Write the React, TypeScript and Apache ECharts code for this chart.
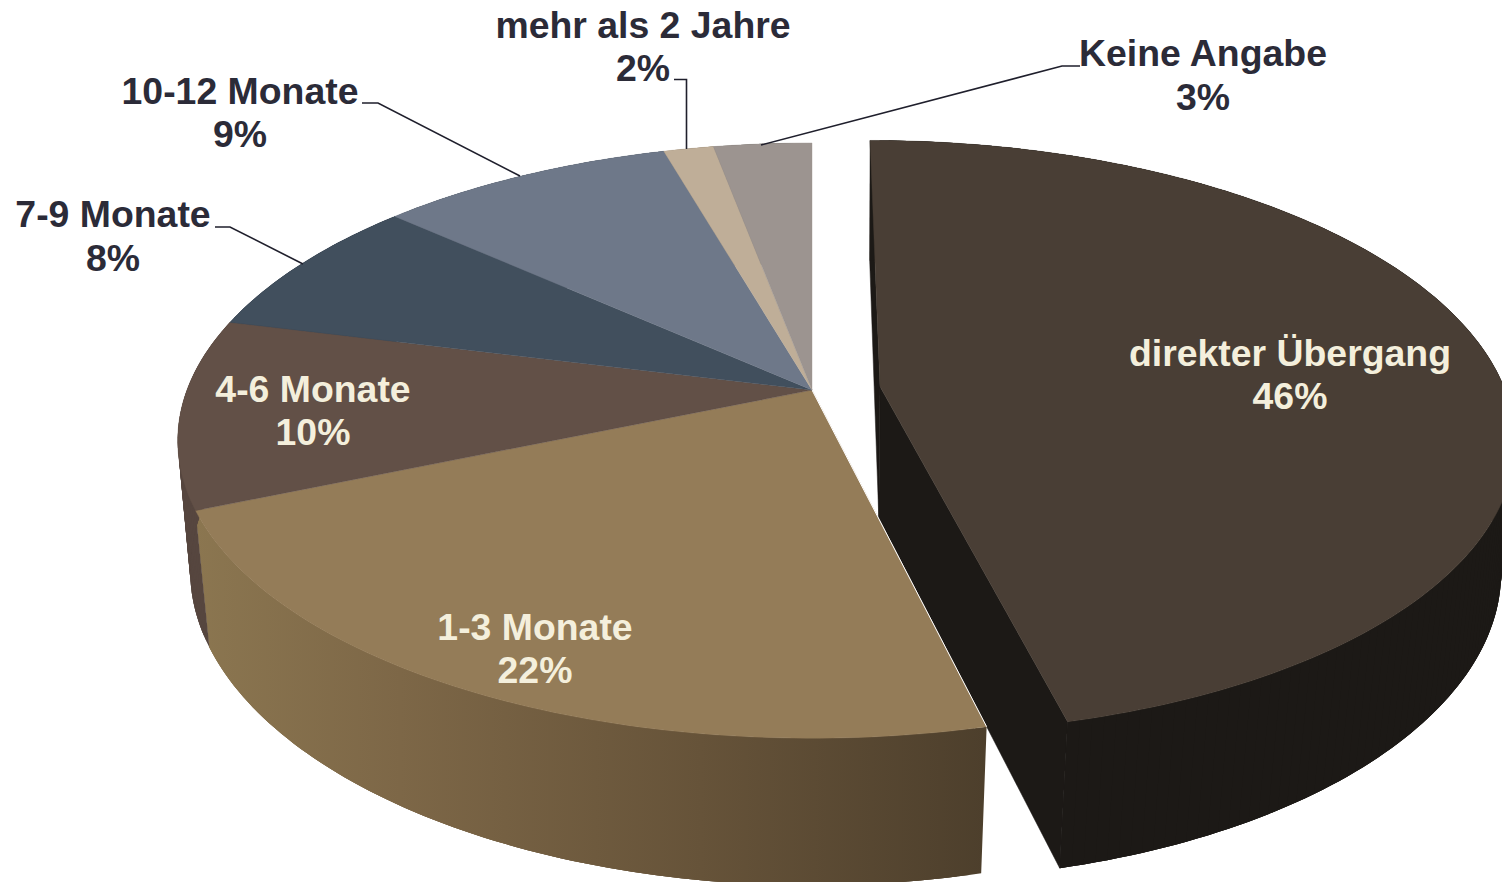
import React, { useEffect, useRef } from "react";
import * as echarts from "echarts";

// Data
const categories = ["direkter Übergang", "1-3 Monate", "4-6 Monate", "7-9 Monate", "10-12 Monate", "mehr als 2 Jahre", "Keine Angabe"];
const values = [46.3, 22.4, 10.3, 7.75, 8.9, 1.5, 2.95];
const faceColors = ["#493e35", "#947c58", "#625047", "#414f5d", "#6e7889", "#bfae98", "#9c9490"];
const wallColors = ["#1c1916", "#7a6445", "#56463f", "#2f3a45", "#525a67", "#8f826f", "#75706c"];
const exploded = [1, 0, 0, 0, 0, 0, 0];

// Layout of labels (centre x, name y, percentage y, colour) and their leader lines
const labelLayout = [
  { x: 1290, y1: 353, y2: 396, fill: "#f4efdc", leader: null },
  { x: 535, y1: 627, y2: 670, fill: "#f4efdc", leader: null },
  { x: 313, y1: 389, y2: 432, fill: "#f4efdc", leader: null },
  { x: 113, y1: 214, y2: 258, fill: "#2b2b38", leader: [[215, 227], [230, 227], [303, 264]] },
  { x: 240, y1: 91, y2: 134, fill: "#2b2b38", leader: [[362, 103], [378, 103], [520, 176]] },
  { x: 643, y1: 25, y2: 68, fill: "#2b2b38", leader: [[674, 79.5], [686.5, 79.5], [686.5, 149]] },
  { x: 1203, y1: 53, y2: 97, fill: "#2b2b38", leader: [[1080, 66], [1062, 66], [761, 145]] },
];

// Perspective of the tilted disc
const CX = 812, TOP_Y = 390, BOT_Y = 521.5, A = 625, B = 289, P = 0.17, BOT_A = 614, BOT_P = 0.158, BOT_SY = 1.045;
const EXPLODE_U = 0.109, EXPLODE_V = -0.012;

function project(u: number, v: number, bottom: boolean): number[] {
  const d = 1 - P * v;
  return bottom
    ? [CX + (BOT_A * u) / (1 - BOT_P * v), BOT_Y + (BOT_SY * B * v) / d]
    : [CX + (A * u) / d, TOP_Y + (B * v) / d];
}

const total = values.reduce((a, b) => a + b, 0);
const sliceAngles = values.map((_, i) => {
  const before = values.slice(0, i).reduce((a, b) => a + b, 0);
  return [(before / total) * 2 * Math.PI, ((before + values[i]) / total) * 2 * Math.PI];
});

function arc(i: number, bottom: boolean): number[][] {
  const [a0, a1] = sliceAngles[i];
  const n = Math.max(2, Math.ceil(((a1 - a0) * 180) / Math.PI));
  const du = exploded[i] ? EXPLODE_U : 0;
  const dv = exploded[i] ? EXPLODE_V : 0;
  const pts: number[][] = [];
  for (let k = 0; k <= n; k++) {
    const t = a0 + ((a1 - a0) * k) / n;
    pts.push(project(Math.sin(t) + du, -Math.cos(t) + dv, bottom));
  }
  return pts;
}

function apex(i: number, bottom: boolean): number[] {
  return exploded[i] ? project(EXPLODE_U, EXPLODE_V, bottom) : project(0, 0, bottom);
}

const tanWall = () =>
  new echarts.graphic.LinearGradient(
    195, 0, 985, 0,
    [
      { offset: 0, color: "#8b7650" },
      { offset: 0.26, color: "#7d6747" },
      { offset: 0.64, color: "#665339" },
      { offset: 1, color: "#4d3f2c" },
    ],
    true
  );

function renderWalls(params: any) {
  const i = params.dataIndex;
  const fill: any = i === 1 ? tanWall() : wallColors[i];
  const children: any[] = [];
  const top = arc(i, false);
  const bot = arc(i, true);
  if (exploded[i]) {
    const ta = apex(i, false);
    const ba = apex(i, true);
    children.push({
      type: "polygon",
      shape: { points: [ta, top[0], bot[0], ba] },
      style: { fill: wallColors[i], stroke: wallColors[i], lineWidth: 0.5 },
    });
    children.push({
      type: "polygon",
      shape: { points: [ta, top[top.length - 1], bot[bot.length - 1], ba] },
      style: { fill: wallColors[i], stroke: wallColors[i], lineWidth: 0.5 },
    });
  }
  // The wall is swept in overlapping quads, so that its silhouette is the tangent between the two rims
  const last = top.length - 1;
  for (let k = 0; k < last; k++) {
    const e = Math.min(k + 3, last);
    const topRun = top.slice(k, e + 1);
    const botRun = bot.slice(k, e + 1).reverse();
    children.push({
      type: "polygon",
      shape: { points: [...topRun, ...botRun] },
      style: { fill },
    });
  }
  return { type: "group", children };
}

function renderFaces(params: any) {
  const i = params.dataIndex;
  const children: any[] = [
    {
      type: "polygon",
      shape: { points: [apex(i, false), ...arc(i, false)] },
      style: { fill: faceColors[i], stroke: faceColors[i], lineWidth: 0.4 },
    },
  ];
  if (i === 1) {
    const edge = arc(i, false)[0];
    children.push({
      type: "line",
      shape: { x1: apex(i, false)[0], y1: apex(i, false)[1], x2: edge[0], y2: edge[1] },
      style: { stroke: "#ffffff", lineWidth: 1 },
    });
  }
  return { type: "group", children };
}

function renderLabels(params: any, api: any) {
  const i = params.dataIndex;
  const l = labelLayout[i];
  const font = { fontFamily: "Liberation Sans", fontWeight: "bold", fontSize: 37.4, textAlign: "center", textVerticalAlign: "middle", fill: l.fill };
  const children: any[] = [
    { type: "text", style: { ...font, text: categories[i], x: l.x, y: l.y1 } },
    { type: "text", style: { ...font, text: `${Math.round(api.value(0))}%`, x: l.x, y: l.y2 } },
  ];
  if (l.leader) {
    children.push({
      type: "polyline",
      shape: { points: l.leader },
      style: { fill: "none", stroke: "#1f1f2c", lineWidth: 1.6 },
    });
  }
  return { type: "group", children };
}

export default function App() {
  const ref = useRef<HTMLDivElement>(null);
  useEffect(() => {
    if (!ref.current) return;
    const chart = echarts.init(ref.current, undefined, { renderer: "svg" });
    const data = values.map((v) => [v]);
    chart.setOption({
      animation: false,
      backgroundColor: "#ffffff",
      series: [
        { type: "custom", coordinateSystem: "none", silent: true, renderItem: renderWalls, data, z: 1 },
        { type: "custom", coordinateSystem: "none", silent: true, renderItem: renderFaces, data, z: 2 },
        { type: "custom", coordinateSystem: "none", silent: true, renderItem: renderLabels, data, z: 3 },
      ],
    });
    return () => chart.dispose();
  }, []);
  return <div ref={ref} style={{ position: "fixed", left: 0, top: 0, width: 1502, height: 882 }} />;
}
